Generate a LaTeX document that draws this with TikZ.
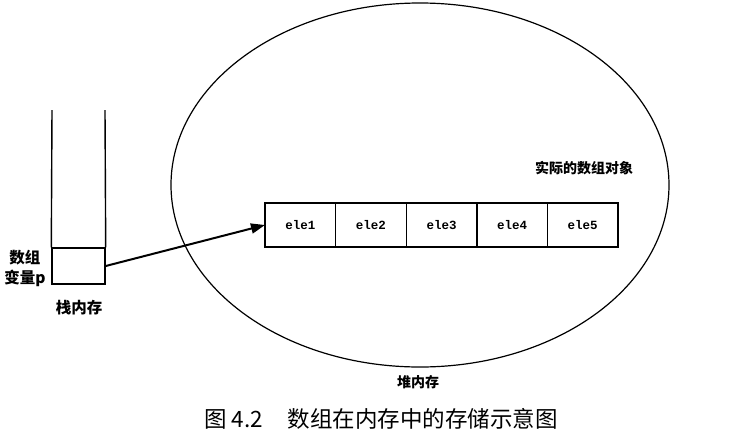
\documentclass[tikz,border=0pt]{standalone}
\usepackage{fontspec}
\newfontfamily\cjk{Noto Sans CJK SC}
\setmonofont{Liberation Mono}
\usetikzlibrary{shapes.geometric,arrows.meta}
\begin{document}
\begin{tikzpicture}[x=1pt,y=-1pt,
  cell/.style={draw,line width=1.4pt,outer sep=0pt,minimum width=70.6pt,minimum height=44pt,inner sep=0pt,font=\ttfamily\bfseries\fontsize{12.5}{14}\selectfont},
  lbl/.style={font=\cjk\bfseries\fontsize{14}{17}\selectfont,inner sep=0pt},
  biglbl/.style={font=\cjk\bfseries\fontsize{15.5}{20}\selectfont,inner sep=0pt},
  wall/.style={line width=1.4pt}]
\useasboundingbox (0,0) rectangle (750,440);
% heap ellipse
\node[ellipse,draw,line width=1.2pt,minimum width=498pt,minimum height=364pt,inner sep=0pt] (heap) at (420,185) {};
% stack
\node[draw,line width=1.4pt,minimum width=53pt,minimum height=36pt,inner sep=0pt] (pbox) at (78.5,266) {};
\coordinate (sl) at (52,110);
\coordinate (sr) at (105,110);
\draw[wall] (sl) -- (pbox.north west);
\draw[wall] (sr) -- (pbox.north east);
% array cells
\node[cell] (c1) at (300.3,225) {ele1};
\node[cell,anchor=west] (c2) at (c1.east) {ele2};
\node[cell,anchor=west] (c3) at (c2.east) {ele3};
\node[cell,anchor=west] (c4) at (c3.east) {ele4};
\node[cell,anchor=west] (c5) at (c4.east) {ele5};
% arrow
\draw[line width=2pt,-{Triangle[length=14pt,width=10pt]}] (pbox.east) -- (c1.west);
% labels
\node[biglbl,align=center] (plbl) at (25,268) {数组\\变量p};
\node[biglbl] (slbl) at (79,308) {栈内存};
\node[lbl] (obj) at (584,168) {实际的数组对象};
\node[lbl] (hlbl) at (418,382) {堆内存};
\node[font=\cjk\fontsize{22.5}{26}\selectfont,inner sep=0pt] (cap) at (381,419) {图 4.2\hspace{1.1em}数组在内存中的存储示意图};
\end{tikzpicture}
\end{document}
